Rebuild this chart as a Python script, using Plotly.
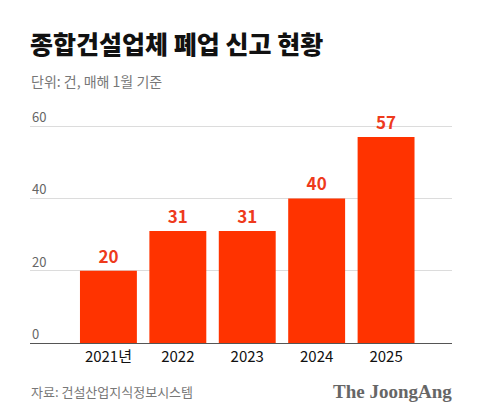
import plotly.graph_objects as go

categories = ["2021년", "2022", "2023", "2024", "2025"]
counts = [20, 31, 31, 40, 57]
y_ticks = [0, 20, 40, 60]

title_text = "종합건설업체 폐업 신고 현황"
subtitle_text = "단위: 건, 매해 1월 기준"
source_text = "자료: 건설산업지식정보시스템"
brand_text = "The JoongAng"

KR = "Noto Sans CJK KR"
BAR = "#ff3300"
LABEL = "#ee3a1c"

TOP = 119
BOTTOM = 76

fig = go.Figure(
    go.Bar(
        x=list(range(len(categories))),
        y=counts,
        width=0.82,
        marker=dict(color=BAR, line=dict(width=0)),
        text=[str(v) for v in counts],
        textposition="outside",
        textfont=dict(family=KR, size=17, color=LABEL, weight="bold"),
        cliponaxis=False,
        hoverinfo="skip",
    )
)

tick_annotations = [
    dict(text=str(v), xref="paper", yref="y", x=0, y=v,
         xanchor="left", yanchor="bottom", yshift=-2, showarrow=False,
         font=dict(family=KR, size=13, color="#666"))
    for v in y_ticks
]

fig.update_layout(
    width=480,
    height=419,
    margin=dict(l=30, r=28, t=TOP, b=BOTTOM, autoexpand=False),
    paper_bgcolor="white",
    plot_bgcolor="white",
    showlegend=False,
    font=dict(family=KR),
    xaxis=dict(
        range=[-1.13, 4.95],
        tickmode="array",
        tickvals=list(range(len(categories))),
        ticktext=categories,
        tickfont=dict(family=KR, size=15, color="#111"),
        showgrid=False,
        showline=True,
        linecolor="#555",
        linewidth=1,
        ticks="",
        zeroline=False,
        automargin=False,
        fixedrange=True,
    ),
    yaxis=dict(
        range=[0, 62],
        tickmode="array",
        tickvals=y_ticks,
        showticklabels=False,
        showgrid=True,
        gridcolor="#dcdcdc",
        gridwidth=1,
        zeroline=False,
        showline=False,
        ticks="",
        automargin=False,
        fixedrange=True,
    ),
    annotations=tick_annotations + [
        dict(text=title_text, xref="paper", yref="paper", x=0, y=1,
             xanchor="left", yanchor="middle", xshift=-2, yshift=(TOP - 43),
             showarrow=False,
             font=dict(family=KR, size=25, color="#111", weight=900)),
        dict(text=subtitle_text, xref="paper", yref="paper", x=0, y=1,
             xanchor="left", yanchor="middle", xshift=-1, yshift=(TOP - 81),
             showarrow=False,
             font=dict(family=KR, size=14, color="#777")),
        dict(text=source_text, xref="paper", yref="paper", x=0, y=0,
             xanchor="left", yanchor="middle", xshift=-1, yshift=-(391 - 343),
             showarrow=False,
             font=dict(family=KR, size=13, color="#777")),
        dict(text=brand_text, xref="paper", yref="paper", x=1, y=0,
             xanchor="right", yanchor="middle", xshift=2, yshift=-(391 - 343),
             showarrow=False,
             font=dict(family="Liberation Serif", size=19, color="#666", weight="bold")),
    ],
)

fig.write_html(
    "out.html",
    config={"displayModeBar": False},
    post_script="document.body.style.margin='0';document.body.style.padding='0';",
)
